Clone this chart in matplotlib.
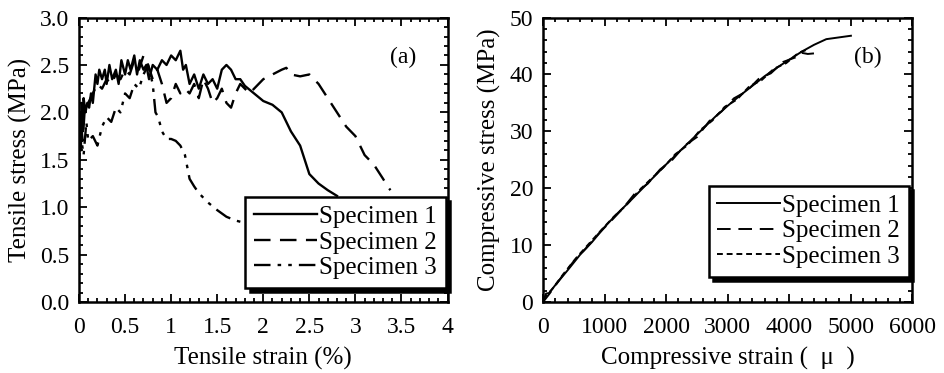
import numpy as np
import matplotlib.pyplot as plt
from matplotlib.ticker import MultipleLocator, FormatStrFormatter

plt.rcParams['font.family'] = ['Liberation Serif', 'DejaVu Serif']

# ---- panel (a): tensile test ----
t1_x = [0, 0.01, 0.02, 0.03, 0.04, 0.05, 0.07, 0.09, 0.11, 0.13,
        0.15, 0.18, 0.2, 0.22, 0.25, 0.28, 0.3, 0.33, 0.36, 0.4,
        0.43, 0.46, 0.5, 0.53, 0.56, 0.6, 0.63, 0.66, 0.7, 0.73,
        0.76, 0.8, 0.85, 0.9, 0.95, 1.0, 1.05, 1.1, 1.13, 1.16,
        1.2, 1.25, 1.3, 1.35, 1.4, 1.45, 1.5, 1.55, 1.6, 1.65,
        1.7, 1.75, 1.8, 1.9, 2.0, 2.1, 2.2, 2.3, 2.4, 2.5,
        2.55, 2.6, 2.7, 2.8]
t1_y = [1.5, 2.0, 1.6, 2.1, 1.8, 2.15, 2.0, 2.1, 2.05, 2.2,
        2.1, 2.4, 2.3, 2.45, 2.35, 2.45, 2.3, 2.5, 2.35, 2.45,
        2.3, 2.55, 2.4, 2.55, 2.45, 2.6, 2.4, 2.55, 2.45, 2.5,
        2.35, 2.5, 2.45, 2.55, 2.5, 2.6, 2.55, 2.65, 2.45, 2.5,
        2.3, 2.4, 2.25, 2.4, 2.3, 2.35, 2.25, 2.45, 2.5, 2.45,
        2.35, 2.35, 2.28, 2.2, 2.12, 2.08, 2.0, 1.8, 1.65, 1.35,
        1.3, 1.25, 1.18, 1.12]

t2_x = [0, 0.02, 0.04, 0.06, 0.1, 0.15, 0.2, 0.25, 0.3, 0.35,
        0.4, 0.45, 0.5, 0.55, 0.6, 0.65, 0.7, 0.75, 0.8, 0.85,
        0.9, 0.95, 1.0, 1.05, 1.1, 1.15, 1.2, 1.25, 1.3, 1.35,
        1.4, 1.45, 1.5, 1.55, 1.6, 1.65, 1.7, 1.75, 1.8, 1.85,
        1.9, 1.95, 2.0, 2.1, 2.2, 2.25, 2.3, 2.4, 2.5, 2.6,
        2.7, 2.8, 2.9, 3.0, 3.1, 3.2, 3.3, 3.35, 3.38]
t2_y = [1.4, 1.9, 1.7, 2.0, 2.1, 2.2, 2.3, 2.25, 2.35, 2.3,
        2.4, 2.35, 2.45, 2.4, 2.55, 2.45, 2.6, 2.5, 2.35, 2.45,
        2.3, 2.1, 2.15, 2.3, 2.2, 2.25, 2.2, 2.3, 2.15, 2.35,
        2.25, 2.1, 2.15, 2.25, 2.1, 2.05, 2.2, 2.3, 2.25, 2.2,
        2.25, 2.3, 2.35, 2.4, 2.45, 2.47, 2.4, 2.38, 2.4, 2.3,
        2.15, 2.0, 1.85, 1.75, 1.55, 1.45, 1.3, 1.22, 1.18]

t3_x = [0, 0.02, 0.05, 0.08, 0.1, 0.15, 0.2, 0.25, 0.3, 0.35,
        0.4, 0.45, 0.5, 0.55, 0.6, 0.65, 0.7, 0.75, 0.8, 0.83,
        0.86, 0.9, 0.95, 1.0, 1.05, 1.1, 1.15, 1.18, 1.2, 1.25,
        1.3, 1.4, 1.5, 1.6, 1.7, 1.78]
t3_y = [1.6, 1.75, 1.55, 1.9, 1.7, 1.75, 1.65, 1.85, 1.95, 1.9,
        2.05, 2.0, 2.2, 2.15, 2.3, 2.25, 2.4, 2.5, 2.3, 2.0,
        1.95, 1.8, 1.72, 1.72, 1.7, 1.65, 1.55, 1.4, 1.3, 1.22,
        1.15, 1.05, 0.97, 0.9, 0.86, 0.84]

# ---- panel (b): compressive test ----
c1_x = [0, 50, 100, 200, 400, 600, 800, 1000, 1200, 1400,
        1600, 1800, 2000, 2200, 2400, 2600, 2800, 3000, 3200, 3400,
        3600, 3800, 4000, 4200, 4400, 4600, 4800, 5000]
c1_y = [0, 1.5, 1.6, 3.0, 5.6, 8.3, 10.6, 13.2, 15.5, 17.6,
        19.8, 22.0, 24.2, 26.3, 28.4, 30.5, 32.6, 34.5, 36.3, 38.0,
        39.7, 41.2, 42.6, 44.0, 45.2, 46.2, 46.5, 46.8]

c2_x = [0, 100, 300, 500, 700, 900, 1100, 1300, 1500, 1700,
        1900, 2100, 2300, 2500, 2700, 2900, 3100, 3300, 3500, 3700,
        3900, 4100, 4200, 4300, 4400]
c2_y = [0, 1.4, 4.4, 7.2, 9.5, 12.0, 14.2, 16.5, 19.2, 20.8,
        23.3, 25.0, 27.5, 29.0, 31.8, 33.5, 35.8, 37.0, 39.2, 40.2,
        42.2, 43.0, 43.8, 43.6, 43.7]

c3_x = [0, 150, 350, 550, 750, 950, 1150, 1350, 1550, 1750,
        1950, 2150, 2350, 2550, 2750, 2950, 3150, 3350, 3550, 3750,
        3950, 4150, 4300]
c3_y = [0.5, 2.3, 5.2, 7.9, 10.3, 12.7, 15.0, 17.0, 19.5, 21.6,
        23.6, 26.0, 27.6, 30.2, 31.9, 34.3, 35.6, 37.9, 39.0, 41.0,
        42.0, 43.8, 44.4]

labels = ['Specimen 1', 'Specimen 2', 'Specimen 3']
styles_a = ['-', (0, (7, 4)), (0, (7, 3, 1.5, 3, 1.5, 3))]
styles_b = ['-', (0, (7, 4)), (0, (3, 2))]

fig = plt.figure(figsize=(9.45, 3.73), dpi=100)
ax1 = fig.add_axes([0.0836, 0.19, 0.39, 0.763])
ax2 = fig.add_axes([0.5746, 0.19, 0.391, 0.763])

ax1.plot(t1_x, t1_y, color='k', ls=styles_a[0], lw=1.7, label=labels[0])
ax1.plot(t2_x, t2_y, color='k', ls=styles_a[1], lw=1.7, label=labels[1])
ax1.plot(t3_x, t3_y, color='k', ls=styles_a[2], lw=1.7, label=labels[2])

ax2.plot(c1_x, c1_y, color='k', ls=styles_b[0], lw=1.4, label=labels[0])
ax2.plot(c2_x, c2_y, color='k', ls=styles_b[1], lw=1.4, label=labels[1])
ax2.plot(c3_x, c3_y, color='k', ls=styles_b[2], lw=1.4, label=labels[2])

ax1.set_xlim(0, 4)
ax1.set_ylim(0, 3)
ax1.xaxis.set_major_locator(MultipleLocator(0.5))
ax1.xaxis.set_minor_locator(MultipleLocator(0.1))
ax1.yaxis.set_major_locator(MultipleLocator(0.5))
ax1.yaxis.set_minor_locator(MultipleLocator(0.1))
ax1.yaxis.set_major_formatter(FormatStrFormatter('%.1f'))
ax1.set_xticks([0, 0.5, 1, 1.5, 2, 2.5, 3, 3.5, 4])
ax1.set_xticklabels(['0', '0.5', '1', '1.5', '2', '2.5', '3', '3.5', '4'])
ax1.set_xlabel('Tensile strain (%)', fontsize=18, labelpad=6)
ax1.set_ylabel('Tensile stress (MPa)', fontsize=18, labelpad=6)
ax1.text(0.88, 0.84, '(a)', transform=ax1.transAxes, fontsize=17, ha='center')

ax2.set_xlim(0, 6000)
ax2.set_ylim(0, 50)
ax2.xaxis.set_major_locator(MultipleLocator(1000))
ax2.xaxis.set_minor_locator(MultipleLocator(200))
ax2.yaxis.set_major_locator(MultipleLocator(10))
ax2.yaxis.set_minor_locator(MultipleLocator(2))
ax2.set_xlabel('Compressive strain (  \u03bc  )', fontsize=18, labelpad=6)
ax2.set_ylabel('Compressive stress (MPa)', fontsize=18, labelpad=6)
ax2.text(0.88, 0.84, '(b)', transform=ax2.transAxes, fontsize=17, ha='center')

shadow = {'color': 'black', 'alpha': 1, 'ox': 3, 'oy': -3}
for ax, anchor in [(ax1, (0.995, 0.05)), (ax2, (0.99, 0.09))]:
    for s in ax.spines.values():
        s.set_linewidth(1.8)
    ax.tick_params(which='both', direction='in', top=True, right=True,
                   labelsize=17, width=1.3)
    ax.tick_params(axis='x', which='both', pad=11)
    ax.tick_params(axis='y', which='both', pad=7)
    ax.tick_params(which='major', length=6)
    ax.tick_params(which='minor', length=3)
    leg = ax.legend(loc='lower right', bbox_to_anchor=anchor, fontsize=18,
                    frameon=True, fancybox=False, shadow=shadow,
                    handlelength=2.5, handletextpad=0.1, labelspacing=0.12,
                    borderpad=0.35, borderaxespad=0)
    leg.get_frame().set_edgecolor('black')
    leg.get_frame().set_linewidth(1.8)
    leg.get_frame().set_alpha(1)

fig.savefig('out.png', dpi=100)
